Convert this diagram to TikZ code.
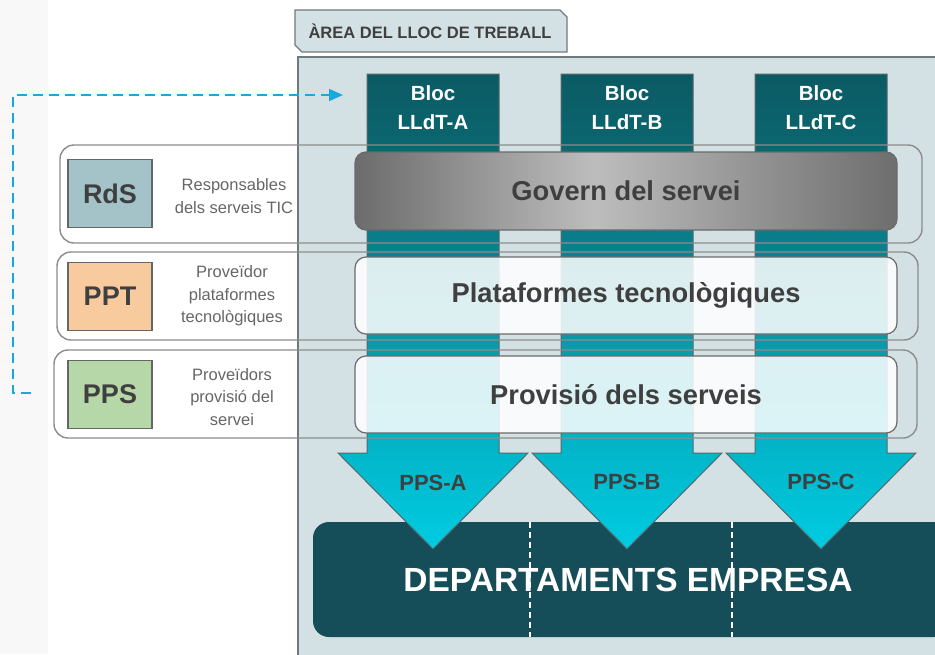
\documentclass[tikz,border=0pt]{standalone}
\usepackage{fontspec}
\setmainfont{Liberation Sans}
\usetikzlibrary{arrows.meta,shadings}
\definecolor{panelc}{HTML}{D3E1E4}
\definecolor{stripc}{HTML}{F8F8F8}
\definecolor{paneledge}{HTML}{707A7C}
\definecolor{rowedge}{HTML}{8C8C8C}
\definecolor{baredge}{HTML}{6A6A6A}
\definecolor{tagedge}{HTML}{666666}
\definecolor{coledge}{HTML}{56686B}
\definecolor{txtdark}{HTML}{3F3F3F}
\definecolor{txtgray}{HTML}{666666}
\definecolor{deptc}{HTML}{154D59}
\definecolor{rdsc}{HTML}{A3C3C8}
\definecolor{pptc}{HTML}{F7CB9D}
\definecolor{ppsc}{HTML}{B6D7A8}
\definecolor{dashblue}{HTML}{1BA8E0}
\definecolor{ca}{HTML}{0B5A63}
\definecolor{cb}{HTML}{0B6770}
\definecolor{cc}{HTML}{097F8B}
\definecolor{cd}{HTML}{0A9AAB}
\definecolor{ce}{HTML}{03B3C7}
\definecolor{cf}{HTML}{00CCE2}
\definecolor{ga}{HTML}{6C6C6C}
\definecolor{gb}{HTML}{BDBDBD}
\definecolor{gc}{HTML}{6E6E6E}
\pgfdeclareverticalshading{colshade}{100bp}{color(0bp)=(cf); color(25bp)=(cf); color(36.5bp)=(ce); color(46.5bp)=(cd); color(57.5bp)=(cc); color(67bp)=(cb); color(75bp)=(ca); color(100bp)=(ca)}
\pgfdeclarehorizontalshading{govshade}{100bp}{color(0bp)=(ga); color(25bp)=(ga); color(47bp)=(gb); color(75bp)=(gc); color(100bp)=(gc)}
\begin{document}
\begin{tikzpicture}[x=1pt,y=-1pt,
  rowbox/.style={draw=rowedge,line width=1.4pt,rounded corners=14pt},
  barbox/.style={draw=baredge,line width=1.2pt,rounded corners=11pt,minimum width=542pt,inner sep=0pt,font=\fontsize{27.3}{31}\selectfont\bfseries,text=txtdark},
  tagbox/.style={draw=tagedge,line width=1.2pt,minimum width=84pt,minimum height=68pt,inner sep=0pt,font=\fontsize{27}{30}\selectfont\bfseries,text=txtdark},
  desc/.style={align=center,text=txtgray,font=\fontsize{16.5}{22.5}\selectfont},
  bloctext/.style={align=center,text=white,font=\fontsize{20.5}{29}\selectfont\bfseries},
  ppstext/.style={text=txtdark,font=\fontsize{22}{26}\selectfont\bfseries},
  colarrow/.style={shading=colshade,draw=coledge,line width=1pt},
  dashconn/.style={draw=dashblue,line width=2pt,dash pattern=on 10pt off 6pt,-{Triangle[length=14pt,width=12pt]}},
]
\useasboundingbox (0,0) rectangle (935,654);
\clip (0,0) rectangle (935,654);
\fill[white] (0,0) rectangle (935,654);
\fill[stripc] (0,0) rectangle (48,654);
% row fills
\fill[white,rounded corners=14pt] (60,145) rectangle (922,243);
\fill[white,rounded corners=14pt] (57,252) rectangle (918,340);
\fill[white,rounded corners=14pt] (54,350) rectangle (917,438);
% panel
\draw[fill=panelc,draw=paneledge,line width=1.5pt] (298,57) rectangle (950,670);
% tab
\draw[fill=panelc,draw=paneledge,line width=1.3pt] (295,10) -- (560,10) -- (567,17) -- (567,52) -- (302,52) -- (295,45) -- cycle;
\node[text=txtdark,font=\fontsize{16.5}{20}\selectfont\bfseries] (tab) at (430,31) {ÀREA DEL LLOC DE TREBALL};
% departaments
\fill[deptc,rounded corners=16pt] (313,522) rectangle (950,637);
\draw[white,line width=1.2pt,dash pattern=on 6pt off 4pt] (530,522) -- (530,637);
\draw[white,line width=1.2pt,dash pattern=on 6pt off 4pt] (732,522) -- (732,637);
\node[text=white,font=\fontsize{33.5}{38}\selectfont\bfseries] (dept) at (628,580) {DEPARTAMENTS EMPRESA};
% column arrows
\path[colarrow] (367,74) -- (499,74) -- (499,453) -- (528,453) -- (433,549) -- (338,453) -- (367,453) -- cycle;
\path[colarrow] (561,74) -- (693,74) -- (693,453) -- (722,453) -- (627,549) -- (532,453) -- (561,453) -- cycle;
\path[colarrow] (755,74) -- (887,74) -- (887,453) -- (916,453) -- (821,549) -- (726,453) -- (755,453) -- cycle;
\node[bloctext] (blocA) at (433,108) {Bloc\\LLdT-A};
\node[bloctext] (blocB) at (627,108) {Bloc\\LLdT-B};
\node[bloctext] (blocC) at (821,108) {Bloc\\LLdT-C};
\node[ppstext] (ppsA) at (433,483) {PPS-A};
\node[ppstext] (ppsB) at (627,482) {PPS-B};
\node[ppstext] (ppsC) at (821,482) {PPS-C};
% row outlines
\draw[rowbox] (60,145) rectangle (922,243);
\draw[rowbox] (57,252) rectangle (918,340);
\draw[rowbox] (54,350) rectangle (917,438);
% bars
\node[barbox,shading=govshade,minimum height=78pt] (govern) at (626,191) {Govern del servei};
\node[barbox,fill=white,fill opacity=0.86,text opacity=1,minimum height=77pt] (plat) at (626,295.5) {Plataformes tecnològiques};
\node[barbox,fill=white,fill opacity=0.86,text opacity=1,minimum height=77pt] (prov) at (626,394.5) {Provisió dels serveis};
% tags
\node[tagbox,fill=rdsc] (rds) at (110,193.5) {RdS};
\node[tagbox,fill=pptc] (ppt) at (110,296.5) {PPT};
\node[tagbox,fill=ppsc] (pps) at (110,394.5) {PPS};
\node[desc] (rdsd) at (234,196) {Responsables\\dels serveis TIC};
\node[desc] (pptd) at (232,296) {Proveïdor\\plataformes\\tecnològiques};
\node[desc] (ppsd) at (232,397) {Proveïdors\\provisió del\\servei};
% dashed connector
\coordinate (dstart) at (31,393);
\coordinate (dend) at (343,95);
\draw[dashconn] (dstart) -- ([xshift=-18pt]dstart) |- (dend);
\end{tikzpicture}
\end{document}
